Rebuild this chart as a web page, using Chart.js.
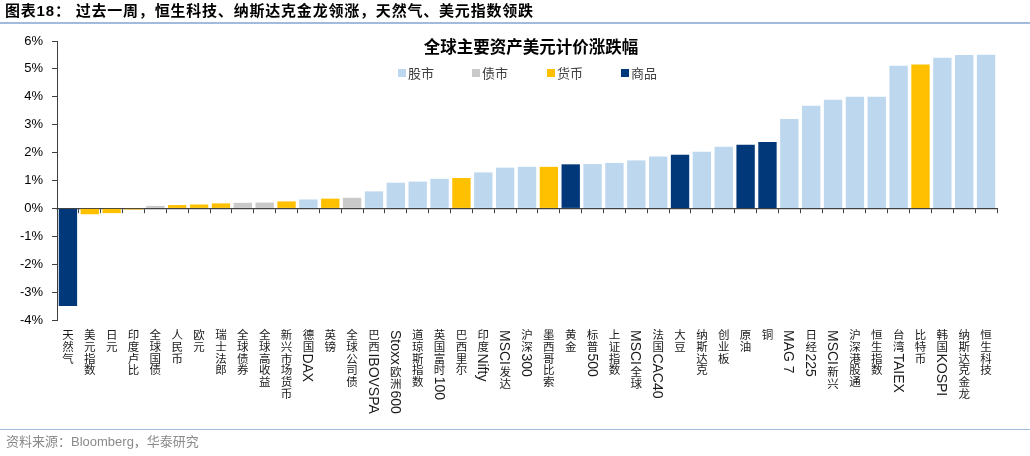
<!DOCTYPE html>
<html><head><meta charset="utf-8">
<script src="https://cdn.jsdelivr.net/npm/chart.js@4.4.1/dist/chart.umd.min.js"></script>
<style>
html,body{margin:0;padding:0;background:#fff;width:1030px;height:456px;overflow:hidden;}
#wrap{position:relative;width:1030px;height:456px;}
canvas{position:absolute;left:0;top:0;}
#hdr{position:absolute;left:5px;top:2px;font:bold 15px "Liberation Sans","Noto Sans CJK SC";color:#000;line-height:18px;white-space:nowrap;z-index:2;letter-spacing:0.8px;}
#hl{position:absolute;left:0;top:22px;width:1030px;height:2px;background:#a3bbda;z-index:2;}
#fl{position:absolute;left:0;top:429px;width:1030px;height:1px;background:#a3bbda;z-index:2;}
#ftr{position:absolute;left:6px;top:433px;font:13px "Liberation Sans","Noto Sans CJK SC";color:#8a8a8a;line-height:17px;white-space:nowrap;z-index:2;}
</style></head>
<body><div id="wrap">
<canvas id="c" width="1030" height="456"></canvas>
<div id="hdr">图表18：&nbsp;过去一周，恒生科技、纳斯达克金龙领涨，天然气、美元指数领跌</div>
<div id="hl"></div>
<div id="fl"></div>
<div id="ftr">资料来源：Bloomberg，华泰研究</div>
</div>
<script>
const chartTitle = '全球主要资产美元计价涨跌幅';
const groups = ['股市', '债市', '货币', '商品'];
const groupColors = ['#BDD7EE', '#C9C9C9', '#FFC000', '#00387A'];
const categories = ['天然气','美元指数','日元','印度卢比','全球国债','人民币','欧元','瑞士法郎','全球债券','全球高收益','新兴市场货币','德国DAX','英镑','全球公司债','巴西IBOVSPA','Stoxx欧洲600','道琼斯指数','英国富时100','巴西里尔','印度Nifty','MSCI发达','沪深300','墨西哥比索','黄金','标普500','上证指数','MSCI全球','法国CAC40','大豆','纳斯达克','创业板','原油','铜','MAG 7','日经225','MSCI新兴','沪深港股通','恒生指数','台湾TAIEX','比特币','韩国KOSPI','纳斯达克金龙','恒生科技'];
const values = [-3.50,-0.21,-0.17,-0.04,0.09,0.12,0.14,0.18,0.20,0.21,0.25,0.32,0.35,0.38,0.61,0.92,0.96,1.06,1.09,1.29,1.46,1.49,1.49,1.58,1.59,1.63,1.72,1.86,1.92,2.03,2.21,2.28,2.38,3.20,3.68,3.89,4.00,4.00,5.11,5.16,5.40,5.50,5.51];
const types = ['商品','货币','货币','货币','债市','货币','货币','货币','债市','债市','货币','股市','货币','债市','股市','股市','股市','股市','货币','股市','股市','股市','货币','商品','股市','股市','股市','股市','商品','股市','股市','商品','商品','股市','股市','股市','股市','股市','股市','货币','股市','股市','股市'];
const yTicks = [-4,-3,-2,-1,0,1,2,3,4,5,6];

const datasets = groups.map((g, gi) => ({
  label: g,
  data: values.map((v, i) => types[i] === g ? v : null),
  backgroundColor: groupColors[gi],
  borderWidth: 0,
  barPercentage: 0.84,
  categoryPercentage: 1.0
}));

const cjkFont = '11.5px "Noto Sans CJK SC"';
const latFont = '14px "Liberation Sans", Arial';
function drawVertical(ctx, text, x, y) {
  const runs = text.match(/[\x00-\x7F]+|[^\x00-\x7F]/g) || [];
  for (const r of runs) {
    if (/^[\x00-\x7F]+$/.test(r)) {
      ctx.font = latFont;
      const w = ctx.measureText(r).width;
      ctx.save();
      ctx.translate(x, y + 1);
      ctx.rotate(Math.PI / 2);
      ctx.textAlign = 'left';
      ctx.textBaseline = 'alphabetic';
      ctx.fillText(r, 0, 5);
      ctx.restore();
      y += w + 2;
    } else {
      ctx.font = cjkFont;
      ctx.textAlign = 'center';
      ctx.textBaseline = 'top';
      ctx.fillText(r, x, y);
      y += 11.7;
    }
  }
}

const overlay = {
  id: 'overlay',
  afterDraw(chart) {
    const ctx = chart.ctx;
    const xs = chart.scales.x;
    ctx.save();
    ctx.fillStyle = '#1a1a1a';
    categories.forEach((c, i) => {
      drawVertical(ctx, c, xs.getPixelForValue(i), 329);
    });
    ctx.font = 'bold 16.5px "Noto Sans CJK SC"';
    ctx.textAlign = 'center';
    ctx.textBaseline = 'middle';
    ctx.fillStyle = '#000';
    ctx.fillText(chartTitle, 531, 47);
    const lx = [398, 472, 547, 621];
    ctx.font = '13px "Noto Sans CJK SC"';
    ctx.textAlign = 'left';
    groups.forEach((g, i) => {
      ctx.fillStyle = groupColors[i];
      ctx.fillRect(lx[i], 69, 8, 8);
      ctx.fillStyle = '#404040';
      ctx.fillText(g, lx[i] + 10, 73);
    });
    ctx.restore();
  }
};

new Chart(document.getElementById('c'), {
  type: 'bar',
  data: { labels: categories, datasets },
  options: {
    responsive: false,
    animation: false,
    devicePixelRatio: 1,
    layout: { padding: { left: 0, right: 33, top: 41, bottom: 136 } },
    plugins: { legend: { display: false }, title: { display: false }, tooltip: { enabled: false } },
    scales: {
      x: {
        stacked: true,
        position: { y: 0 },
        grid: { display: true, drawOnChartArea: false, drawTicks: true, tickLength: 4, color: '#404040', offset: true },
        border: { display: true, color: '#404040', width: 1.2 },
        ticks: { autoSkip: false, maxRotation: 0, callback: () => '', padding: 0 },
        afterFit: s => { s.height = 0; }
      },
      y: {
        stacked: true,
        min: -4, max: 6,
        afterBuildTicks: s => { s.ticks = yTicks.map(v => ({ value: v })); },
        grid: { display: true, drawOnChartArea: false, drawTicks: true, tickLength: 5, color: '#404040' },
        border: { display: true, color: '#404040', width: 1 },
        ticks: { padding: 9, color: '#000', font: { family: '"Liberation Sans", Arial', size: 13 }, callback: v => v + '%' },
        afterFit: s => { s.width = 57; }
      }
    }
  },
  plugins: [overlay]
});
</script>
</body></html>
